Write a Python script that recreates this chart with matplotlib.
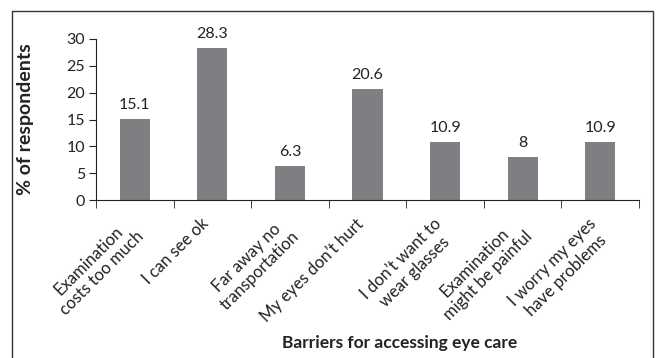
import matplotlib.pyplot as plt
import matplotlib.patches as mpatches
import matplotlib.transforms as mtransforms

plt.rcParams['font.family'] = ['Lato', 'DejaVu Sans']

barriers = ['Examination\ncosts too much', 'I can see ok', 'Far away no\ntransportation',
            'My eyes don\u2019t hurt', 'I don\u2019t want to\nwear glasses',
            'Examination\nmight be painful', 'I worry my eyes\nhave problems']
percent = [15.1, 28.3, 6.3, 20.6, 10.9, 8, 10.9]
value_text = ['15.1', '28.3', '6.3', '20.6', '10.9', '8', '10.9']

ink = '#222222'

fig = plt.figure(figsize=(6.57, 3.58), dpi=100)
ax = fig.add_axes([96/657, 1 - 200/358, (639 - 96)/657, (200 - 39)/358])

x = range(len(percent))
ax.bar(x, percent, width=0.39, color='#7e7f83')
for i, v in enumerate(percent):
    ax.text(i, v + 1.3, value_text[i], ha='center', va='bottom', fontsize=11.5, color=ink)

ax.set_xlim(-0.5, len(percent) - 0.5)
ax.set_ylim(0, 30)
ax.set_yticks(range(0, 31, 5))
ax.tick_params(axis='y', length=5, labelsize=11.5, colors=ink, pad=3)

# labels sit under the bar centres, tick marks go between categories
ax.set_xticks(list(x))
ax.set_xticks([i - 0.5 for i in range(len(percent) + 1)], minor=True)
ax.tick_params(axis='x', which='major', length=0, pad=11)
ax.tick_params(axis='x', which='minor', length=6, color=ink)
ax.set_xticklabels(barriers, rotation=45, ha='right', va='top', rotation_mode='anchor',
                   fontsize=12, multialignment='center', color=ink)
shift = mtransforms.ScaledTranslation(-0.12, 0, fig.dpi_scale_trans)
for lbl in ax.get_xticklabels():
    lbl.set_transform(lbl.get_transform() + shift)

for side in ['top', 'right']:
    ax.spines[side].set_visible(False)
ax.spines['left'].set_color(ink)
ax.spines['bottom'].set_color(ink)

ax.set_ylabel('% of respondents', fontsize=14, fontweight='bold', color=ink, labelpad=8)
ax.yaxis.set_label_coords(-0.114, 0.5)
fig.text(400/657, 1 - 343/358, 'Barriers for accessing eye care', ha='center', va='center',
         fontsize=12.5, fontweight='bold', color=ink)

# thin frame around the whole figure, open at the bottom
fig.patches.append(mpatches.Rectangle((12/657, -0.05), (653 - 12)/657, 1.05 - 11/358,
                                      transform=fig.transFigure, fill=False,
                                      edgecolor='#333333', linewidth=1))

fig.savefig('out.png', dpi=100)
